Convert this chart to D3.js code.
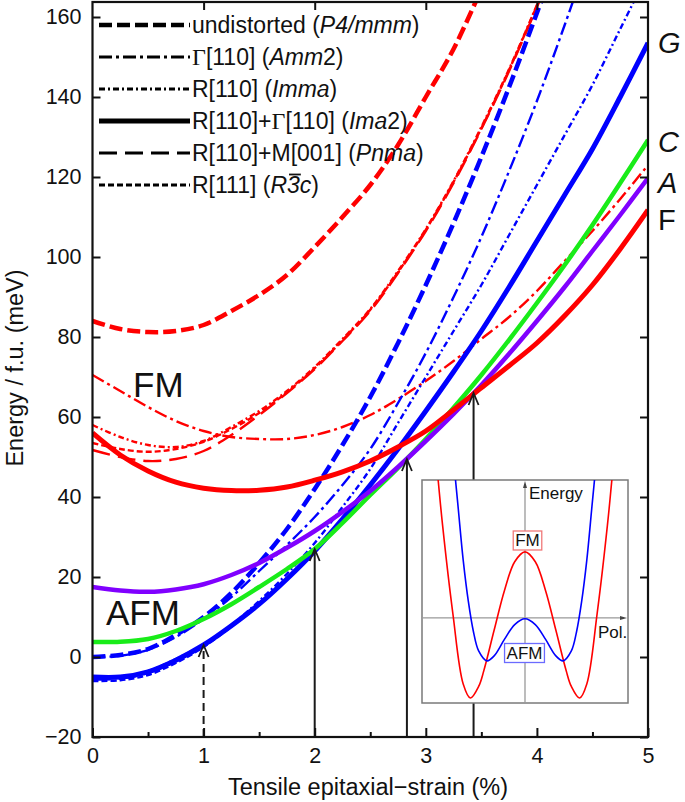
<!DOCTYPE html>
<html>
<head>
<meta charset="utf-8">
<script src="https://cdnjs.cloudflare.com/ajax/libs/d3/7.8.5/d3.min.js"></script>
<style>
  html, body { margin: 0; padding: 0; background: #fff; }
  svg text { font-family: "Liberation Sans", Arial, sans-serif; fill: #111; }
</style>
</head>
<body>
<svg id="chart" width="685" height="802"></svg>
<script>
// strain grid (%) shared by all curves
var strain = [0, 0.25, 0.5, 0.75, 1, 1.25, 1.5, 1.75, 2, 2.25, 2.5, 2.75, 3, 3.25, 3.5, 3.75, 4, 4.25, 4.5, 4.75, 5];

// FM (red) energies, meV / f.u.
var fmP4mmm = [84, 82, 81.25, 81.5, 83, 86.5, 90.5, 95.5, 102.5, 110, 118, 128, 140, 152, 167, null, null, null, null, null, null];
var fmAmm2  = [70.5, 66.5, 62.5, 59, 56.5, 55, 54.5, 54.5, 55.5, 57.5, 60.5, 64.5, 69, 74, 79.5, 85, 91.5, 99, 106.5, 114.5, 123];
var fmImma  = [58, 55, 53, 52.5, 54, 57.5, 61.5, 66.5, 72.5, 79.5, 87, 96.5, 107, 119, 132.5, 147, 163, 180, null, null, null];
var fmIma2  = [56, 50.5, 46.5, 43.7, 42.2, 41.6, 41.7, 42.5, 44.2, 46.3, 49, 52.5, 56.5, 61.8, 67.3, 72.8, 78.5, 85.3, 93, 102, 111.75];
var fmPnma  = [51.75, 50, 49, 49.5, 51.5, 55.5, 60.5, 66, 72, 79, 86.5, 96, 106.5, 118.5, 132, 146.5, 162.5, 179, null, null, null];
var fmR3c   = [53.5, 52, 51.3, 52, 53.8, 57, 61, 66.2, 72.2, 79.2, 86.8, 96.2, 106.8, 118.8, 132.2, 146.8, 162.8, 179.5, null, null, null];

// G-AFM (blue)
var afmP4mmm = [0, 0.5, 2, 5.5, 10, 16, 23.5, 32, 42, 53, 65, 78.5, 93, 108.5, 125, 142.5, 161, 180, null, null, null];
var afmAmm2  = [0, 0.3, 1.8, 5, 9.5, 15, 21.5, 28, 35, 43, 52, 63.5, 76, 90, 105, 121.5, 139, 158, 178, null, null];
var afmImma  = [-5.3, -5.0, -3.5, -0.5, 3.2, 8, 14, 20.8, 28.5, 37.5, 47, 58.5, 70, 81.5, 93, 105.5, 118, 130.5, 143, 157, 171];
var afmIma2  = [-5, -5, -3.7, -0.8, 3, 7.8, 13.2, 19.5, 26.5, 34.5, 43, 52, 61.5, 71.3, 81.5, 92.5, 104, 115.5, 127, 140, 153.5];
var afmPnma  = [-5.6, -5.4, -4, -1.1, 2.8, 7.7, 13.2, 19.5, 26.5, 34.5, 43, 52, 61.5, 71.3, 81.5, 92.5, 104, 115.5, 127, 140, 153.5];
var afmR3c   = [-6, -5.8, -4.5, -1.5, 2.5, 7.6, 13.2, 19.5, 26.5, 34.5, 43, 52, 61.5, 71.3, 81.5, 92.5, 104, 115.5, 127, 140, 153.5];

// C-AFM (green) and A-AFM (purple), Ima2
var cAfm = [3.75, 3.8, 4.5, 6.5, 9.5, 13.2, 17.5, 22, 27, 33.5, 40.5, 47.3, 54.5, 62.3, 70.5, 79.3, 88.5, 98, 108, 118.5, 129.25];
var aAfm = [17.5, 16.6, 16.3, 16.9, 18.2, 20.5, 23.5, 27.3, 31.5, 36.3, 41.5, 47.5, 54, 60.8, 68, 75.8, 84, 92.5, 101.5, 110.5, 119.75];

// transition arrows
var arrowStrain = [1.0, 2.0, 2.83, 3.43];
var arrowEnergy = [3, 27, 49.5, 66];
var arrowDashed = [true, false, false, false];

// axis ticks
var xTicks = [0, 1, 2, 3, 4, 5];
var xMinorTicks = [0.5, 1.5, 2.5, 3.5, 4.5];
var yTicks = [-20, 0, 20, 40, 60, 80, 100, 120, 140, 160];

// inset double wells (schematic, polarization vs energy)
var insetPolFM = [-0.86, -0.8, -0.7, -0.6, -0.53, -0.45, -0.4, -0.3, -0.2, -0.1, 0, 0.1, 0.2, 0.3, 0.4, 0.45, 0.53, 0.6, 0.7, 0.8, 0.86];
var insetEnergyFM = [1.9, 1.12, 0.05, -0.8, -0.97, -0.83, -0.64, -0.15, 0.33, 0.68, 0.8, 0.68, 0.33, -0.15, -0.64, -0.83, -0.97, -0.8, 0.05, 1.12, 1.9];
var insetPolAFM = [-0.7, -0.65, -0.6, -0.55, -0.5, -0.45, -0.37, -0.3, -0.2, -0.1, 0, 0.1, 0.2, 0.3, 0.37, 0.45, 0.5, 0.55, 0.6, 0.65, 0.7];
var insetEnergyAFM = [2.0, 1.35, 0.7, 0.2, -0.17, -0.4, -0.52, -0.46, -0.26, -0.08, -0.01, -0.08, -0.26, -0.46, -0.52, -0.4, -0.17, 0.2, 0.7, 1.35, 2.0];

var legendLabels = [
  [["undistorted (", ""], ["P4/mmm", "i"], [")", ""]],
  [["\u0393", "g"], ["[110] (", ""], ["Amm", "i"], ["2)", ""]],
  [["R[110] (", ""], ["Imma", "i"], [")", ""]],
  [["R[110]+", ""], ["\u0393", "g"], ["[110] (", ""], ["Ima", "i"], ["2)", ""]],
  [["R[110]+M[001] (", ""], ["Pnma", "i"], [")", ""]],
  [["R[111] (", ""], ["R", "i"], ["3", "i"], ["c", "i"], [")", ""]]
];

var styles = {
  p4mmm: {dash: "13,5", width: 4.5},
  amm2:  {dash: "13,4,3,4", width: 2.4},
  imma:  {dash: "6,3,2,3", width: 2.4},
  ima2:  {dash: null, width: 5},
  pnma:  {dash: "18,8", width: 2.4},
  r3c:   {dash: "6,3", width: 2.4}
};
var legendKeys = ["p4mmm", "amm2", "imma", "ima2", "pnma", "r3c"];

var RED = "#ff0000", BLUE = "#0000ff", GREEN = "#19ec19", PURPLE = "#8000ff";

var svg = d3.select("#chart");
var x = d3.scaleLinear().domain([0, 5]).range([92.5, 648]);
var y = d3.scaleLinear().domain([-20, 163.75]).range([737, 2]);

svg.append("defs").append("clipPath").attr("id", "plotclip")
  .append("rect").attr("x", 92.5).attr("y", 2).attr("width", 555.5).attr("height", 735);

var line = d3.line()
  .defined(function(d) { return d[1] != null; })
  .x(function(d) { return x(d[0]); })
  .y(function(d) { return y(d[1]); })
  .curve(d3.curveCatmullRom);

function pairs(vals) { return strain.map(function(s, i) { return [s, vals[i]]; }); }

var curves = svg.append("g").attr("clip-path", "url(#plotclip)");

function drawCurve(vals, color, key, widthOverride) {
  var st = styles[key];
  curves.append("path")
    .attr("d", line(pairs(vals)))
    .attr("fill", "none")
    .attr("stroke", color)
    .attr("stroke-width", widthOverride || st.width)
    .attr("stroke-dasharray", st.dash)
    .attr("stroke-linecap", "butt");
}

drawCurve(fmP4mmm, RED, "p4mmm");
drawCurve(fmAmm2, RED, "amm2");
drawCurve(fmImma, RED, "imma");
drawCurve(fmPnma, RED, "pnma");
drawCurve(fmR3c, RED, "r3c");
drawCurve(afmR3c, BLUE, "r3c");
drawCurve(afmPnma, BLUE, "pnma");
drawCurve(afmImma, BLUE, "imma");
drawCurve(afmAmm2, BLUE, "amm2");
drawCurve(afmP4mmm, BLUE, "p4mmm");
drawCurve(afmIma2, BLUE, "ima2");
drawCurve(cAfm, GREEN, "ima2", 4.5);
drawCurve(aAfm, PURPLE, "ima2", 4.5);
drawCurve(fmIma2, RED, "ima2");

// transition arrows
arrowStrain.forEach(function(s, i) {
  var px = x(s), tip = y(arrowEnergy[i]);
  svg.append("line")
    .attr("x1", px).attr("x2", px).attr("y1", 737).attr("y2", tip + 1)
    .attr("stroke", "#1a1a1a").attr("stroke-width", 2)
    .attr("stroke-dasharray", arrowDashed[i] ? "8,5" : null);
  svg.append("path")
    .attr("d", "M" + (px - 5) + "," + (tip + 12) + "L" + px + "," + tip + "L" + (px + 5) + "," + (tip + 12))
    .attr("fill", "none").attr("stroke", "#1a1a1a").attr("stroke-width", 1.8);
});

// axes
function styleAxis(g) {
  g.select(".domain").remove();
  g.selectAll(".tick line").attr("stroke", "#111").attr("stroke-width", 2);
  g.selectAll(".tick text").style("font-size", "21.5px").attr("fill", "#111");
}
svg.append("g").attr("transform", "translate(0,737)")
  .call(d3.axisBottom(x).tickValues(xTicks).tickSize(-9).tickPadding(11).tickFormat(d3.format("d")))
  .call(styleAxis);
svg.append("g").attr("transform", "translate(0,737)")
  .call(d3.axisBottom(x).tickValues(xMinorTicks).tickSize(-5).tickFormat(""))
  .call(styleAxis);
svg.append("g").attr("transform", "translate(0,2)")
  .call(d3.axisTop(x).tickValues(xTicks.slice(1, 5)).tickSize(-8).tickFormat(""))
  .call(styleAxis);
svg.append("g").attr("transform", "translate(92.5,0)")
  .call(d3.axisLeft(y).tickValues(yTicks).tickSize(-8).tickPadding(11))
  .call(styleAxis);
svg.append("g").attr("transform", "translate(648,0)")
  .call(d3.axisRight(y).tickValues(yTicks).tickSize(-8).tickFormat(""))
  .call(styleAxis);
svg.append("rect").attr("x", 92.5).attr("y", 2).attr("width", 555.5).attr("height", 735)
  .attr("fill", "none").attr("stroke", "#111").attr("stroke-width", 2.2);

// axis titles
svg.append("text").attr("x", 368).attr("y", 795).attr("text-anchor", "middle")
  .style("font-size", "23.5px").text("Tensile epitaxial\u2212strain (%)");
svg.append("text").attr("transform", "translate(23,368) rotate(-90)").attr("text-anchor", "middle")
  .style("font-size", "23.5px").text("Energy / f.u. (meV)");

// FM / AFM labels
svg.append("text").attr("x", 133).attr("y", 397).style("font-size", "35px").text("FM");
svg.append("text").attr("x", 106).attr("y", 625).style("font-size", "35px").text("AFM");

// magnetic order labels at right
var orderLabels = [["G", 53, true], ["C", 152, true], ["A", 193, true], ["F", 230, false]];
orderLabels.forEach(function(o) {
  svg.append("text").attr("x", 658).attr("y", o[1]).style("font-size", "29px")
    .style("font-style", o[2] ? "italic" : "normal").text(o[0]);
});

// legend
var legendY = [25, 57, 89, 121, 153, 185];
legendKeys.forEach(function(k, i) {
  var st = styles[k];
  svg.append("line").attr("x1", 99).attr("x2", 190).attr("y1", legendY[i]).attr("y2", legendY[i])
    .attr("stroke", "#000").attr("stroke-width", k === "p4mmm" ? 4.5 : (k === "ima2" ? 5 : 3))
    .attr("stroke-dasharray", st.dash);
  var t = svg.append("text").attr("x", 192).attr("y", legendY[i] + 8).style("font-size", "23px");
  legendLabels[i].forEach(function(p) {
    var ts = t.append("tspan").text(p[0]);
    if (p[1] === "i") ts.style("font-style", "italic");
    if (p[1] === "g") ts.style("font-family", "'Liberation Serif', serif").style("font-size", "24px");
  });
  if (k === "r3c") {
    var r = t.node().getExtentOfChar(9);
    svg.append("line").attr("x1", r.x + 2).attr("x2", r.x + r.width + 1)
      .attr("y1", r.y + 2.5).attr("y2", r.y + 2.5).attr("stroke", "#111").attr("stroke-width", 1.8);
  }
});

// inset
var ix = d3.scaleLinear().domain([-1, 1]).range([422, 628]);
var iy = d3.scaleLinear().domain([-1.03, 1.67]).range([703, 480]);
var inset = svg.append("g");
inset.append("rect").attr("x", 422).attr("y", 480).attr("width", 206).attr("height", 223)
  .attr("fill", "#fff").attr("stroke", "#7a7a7a").attr("stroke-width", 1.5);
svg.select("defs").append("clipPath").attr("id", "insetclip")
  .append("rect").attr("x", 422).attr("y", 480).attr("width", 206).attr("height", 223);

inset.append("line").attr("x1", ix(0)).attr("x2", ix(0)).attr("y1", 703).attr("y2", 484)
  .attr("stroke", "#999").attr("stroke-width", 1.3);
inset.append("line").attr("x1", 422).attr("x2", 624).attr("y1", iy(0)).attr("y2", iy(0))
  .attr("stroke", "#999").attr("stroke-width", 1.3);
inset.append("path").attr("d", "M" + (ix(0) - 2) + ",488L" + ix(0) + ",481L" + (ix(0) + 2) + ",488Z").attr("fill", "#444");
inset.append("path").attr("d", "M620," + (iy(0) - 2) + "L627," + iy(0) + "L620," + (iy(0) + 2) + "Z").attr("fill", "#444");

var iline = d3.line().x(function(d) { return ix(d[0]); }).y(function(d) { return iy(d[1]); }).curve(d3.curveCatmullRom);
var iclip = inset.append("g").attr("clip-path", "url(#insetclip)");
iclip.append("path").attr("d", iline(insetPolFM.map(function(p, i) { return [p, insetEnergyFM[i]]; })))
  .attr("fill", "none").attr("stroke", RED).attr("stroke-width", 1.6);
iclip.append("path").attr("d", iline(insetPolAFM.map(function(p, i) { return [p, insetEnergyAFM[i]]; })))
  .attr("fill", "none").attr("stroke", BLUE).attr("stroke-width", 1.6);

inset.append("text").attr("x", 529).attr("y", 499).style("font-size", "17px").text("Energy");
inset.append("text").attr("x", 598).attr("y", 638).style("font-size", "17px").text("Pol.");

function boxedLabel(txt, cx, base, color) {
  var t = inset.append("text").attr("x", cx).attr("y", base).attr("text-anchor", "middle")
    .style("font-size", "17px").text(txt);
  var b = t.node().getBBox();
  inset.insert("rect", function() { return t.node(); })
    .attr("x", b.x - 2).attr("y", b.y).attr("width", b.width + 4).attr("height", b.height)
    .attr("fill", "#fff").attr("stroke", color).attr("stroke-width", 1.3);
}
boxedLabel("FM", 527.5, 546, "#f07878");
boxedLabel("AFM", 524.5, 658.5, "#6b6bff");
</script>
</body>
</html>
